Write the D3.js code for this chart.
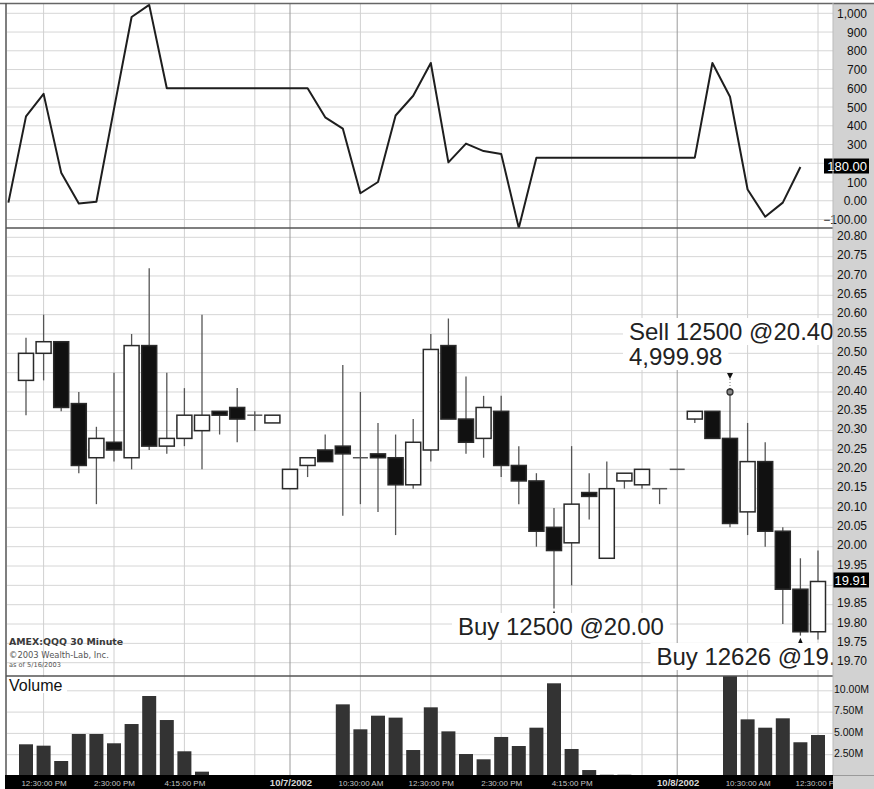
<!DOCTYPE html>
<html>
<head>
<meta charset="utf-8">
<script src="https://cdnjs.cloudflare.com/ajax/libs/d3/7.8.5/d3.min.js"></script>
<style>
body { margin: 0; background: #fff; }
svg { display: block; }
text { font-family: "Liberation Sans", Arial, sans-serif; }
</style>
</head>
<body>
<svg id="chart" width="874" height="789"></svg>
<script>
// QQQ 30 minute bars, 10/4 - 10/8/2002
const opens  = [20.43,20.50,20.53,20.37,20.23,20.27,20.23,20.52,20.26,20.28,20.30,20.35,20.36,20.34,20.32,
                20.15,20.21,20.25,20.26,20.23,20.24,20.23,20.16,20.25,20.52,20.33,20.28,20.35,20.21,20.17,20.05,20.01,20.14,19.97,20.17,20.16,20.15,
                20.20,20.33,20.35,20.28,20.09,20.22,20.04,19.89,19.78];
const highs  = [20.54,20.60,20.53,20.40,20.31,20.45,20.55,20.72,20.45,20.41,20.60,20.35,20.41,20.35,20.34,
                20.20,20.23,20.29,20.47,20.40,20.32,20.29,20.33,20.55,20.59,20.44,20.39,20.39,20.26,20.19,20.10,20.26,20.19,20.22,20.19,20.20,20.15,
                20.20,20.35,20.35,20.41,20.32,20.27,20.05,19.97,19.99];
const lows   = [20.34,20.43,20.35,20.19,20.11,20.22,20.20,20.25,20.24,20.26,20.20,20.29,20.27,20.30,20.32,
                20.15,20.18,20.22,20.08,20.11,20.09,20.03,20.15,20.22,20.33,20.24,20.23,20.18,20.11,20.00,19.84,19.90,20.07,19.97,20.15,20.15,20.11,
                20.20,20.32,20.28,20.05,20.03,20.00,19.80,19.77,19.76];
const closes = [20.50,20.53,20.36,20.21,20.28,20.25,20.52,20.26,20.28,20.34,20.34,20.34,20.33,20.34,20.34,
                20.20,20.23,20.22,20.24,20.23,20.23,20.16,20.27,20.51,20.33,20.27,20.36,20.21,20.17,20.04,19.99,20.11,20.13,20.15,20.19,20.20,20.15,
                20.20,20.35,20.28,20.06,20.22,20.04,19.89,19.78,19.91];
// volume in millions
const volumes = [3.72,3.56,1.76,4.93,4.93,3.84,6.10,9.39,6.57,2.90,0.51,0,0,0,0,
                 0,0,0,8.41,5.48,7.08,6.85,3.05,8.06,5.24,2.58,1.96,4.58,3.52,5.67,10.88,3.17,0.70,0.15,0.15,0,0,
                 0,0,0,12.0,6.65,5.67,6.77,3.96,4.81];
// oscillator, first value belongs to the bar before the first candle
const oscStart = -1;
const oscillator = [-10,450,570,150,-15,-5,490,980,1045,600,600,600,600,600,600,600,600,600,
                    445,385,40,100,455,560,735,205,305,265,250,-145,230,230,230,230,230,230,230,230,230,230,
                    735,555,60,-85,-10,180];

const oscTicks = [-100,0,100,200,300,400,500,600,700,800,900,1000];
const oscTickLabels = ["\u2212100.00","0.00","100","200","300","400","500","600","700","800","900","1,000"];
const priceTicks = [19.70,19.75,19.80,19.85,19.90,19.95,20.00,20.05,20.10,20.15,20.20,20.25,
                    20.30,20.35,20.40,20.45,20.50,20.55,20.60,20.65,20.70,20.75,20.80];
const volTicks = [2.5,5,7.5,10];
const volTickLabels = ["2.50M","5.00M","7.50M","10.00M"];
const gridBars = [1,5,9,13,19,23,27,31,35,41,45];
const timeTickBars = [1,5,9,19,23,27,31,41,45];
const timeTickLabels = ["12:30:00 PM","2:30:00 PM","4:15:00 PM","10:30:00 AM","12:30:00 PM",
                        "2:30:00 PM","4:15:00 PM","10:30:00 AM","12:30:00 PM"];
const dayBars = [15,37];
const dayLabels = ["10/7/2002","10/8/2002"];

const tradeBars = [30,40,44];
const tradeSides = ["Buy","Sell","Buy"];
const tradeShares = [12500,12500,12626];
const tradePrices = [20.00,20.40,19.80];
const tradeProfit = [null,"4,999.98",null];

const lastOsc = 180.00;
const lastPrice = 19.91;

// ---- layout
const svg = d3.select("#chart");
const L = 7, R = 833, W = 874;
const top0 = 4, top1 = 228, mid1 = 676, vol1 = 775;

const x = d3.scaleLinear().domain([0, 45]).range([26, 818]);
const yOsc = d3.scaleLinear().domain([-100, 1000]).range([219.5, 13.3]);
const yPrice = d3.scaleLinear().domain([19.70, 20.80]).range([662.7, 237.3]);
const yVol = d3.scaleLinear().domain([0, 10]).range([776, 690.8]);

const defs = svg.append("defs");
function clip(id, y0, y1, x1) {
    defs.append("clipPath").attr("id", id)
        .append("rect").attr("x", L).attr("y", y0).attr("width", (x1 || R) - L).attr("height", y1 - y0);
}
clip("cTop", top0, top1);
clip("cMid", top1, mid1);
clip("cVol", mid1, vol1);

// ---- grid
const grid = svg.append("g").attr("class", "grid");
grid.selectAll("line.h1").data(oscTicks).enter().append("line")
    .attr("x1", L).attr("x2", R)
    .attr("y1", d => yOsc(d)).attr("y2", d => yOsc(d))
    .attr("stroke", "#d6d6d6");
grid.selectAll("line.h2").data(priceTicks).enter().append("line")
    .attr("x1", L).attr("x2", R)
    .attr("y1", d => yPrice(d)).attr("y2", d => yPrice(d))
    .attr("stroke", "#d6d6d6");
grid.selectAll("line.h3").data(volTicks).enter().append("line")
    .attr("x1", L).attr("x2", R)
    .attr("y1", d => yVol(d)).attr("y2", d => yVol(d))
    .attr("stroke", "#d6d6d6");
grid.selectAll("line.v").data(gridBars).enter().append("line")
    .attr("x1", d => x(d)).attr("x2", d => x(d))
    .attr("y1", top0).attr("y2", vol1)
    .attr("stroke", "#d0d0d0");
grid.selectAll("line.d").data(dayBars).enter().append("line")
    .attr("x1", d => x(d)).attr("x2", d => x(d))
    .attr("y1", top0).attr("y2", vol1)
    .attr("stroke", "#9a9a9a");

// ---- oscillator
const oscLine = d3.line()
    .x((d, k) => x(k + oscStart))
    .y(d => yOsc(d));
svg.append("path")
    .attr("clip-path", "url(#cTop)")
    .attr("d", oscLine(oscillator))
    .attr("fill", "none")
    .attr("stroke", "#1e1e1e")
    .attr("stroke-width", 2)
    .attr("stroke-linejoin", "round");

// ---- candles
const bars = d3.range(opens.length);
const candles = svg.append("g").attr("clip-path", "url(#cMid)");
candles.selectAll("line.wick").data(bars).enter().append("line")
    .attr("x1", i => x(i)).attr("x2", i => x(i))
    .attr("y1", i => yPrice(highs[i])).attr("y2", i => yPrice(lows[i]))
    .attr("stroke", "#555").attr("stroke-width", 1.3);
candles.selectAll("rect.body").data(bars.filter(i => opens[i] !== closes[i])).enter().append("rect")
    .attr("x", i => x(i) - 7.5)
    .attr("width", 15)
    .attr("y", i => yPrice(Math.max(opens[i], closes[i])))
    .attr("height", i => Math.abs(yPrice(opens[i]) - yPrice(closes[i])))
    .attr("fill", i => closes[i] > opens[i] ? "#fff" : "#111")
    .attr("stroke", "#2a2a2a")
    .attr("stroke-width", 1.5);
candles.selectAll("line.doji").data(bars.filter(i => opens[i] === closes[i])).enter().append("line")
    .attr("x1", i => x(i) - 7.5).attr("x2", i => x(i) + 7.5)
    .attr("y1", i => yPrice(closes[i])).attr("y2", i => yPrice(closes[i]))
    .attr("stroke", "#555").attr("stroke-width", 1.5);

// ---- volume
svg.append("g").attr("clip-path", "url(#cVol)")
    .selectAll("rect").data(bars.filter(i => volumes[i] > 0)).enter().append("rect")
    .attr("x", i => x(i) - 7)
    .attr("width", 14)
    .attr("y", i => yVol(volumes[i]))
    .attr("height", i => yVol(0) - yVol(volumes[i]))
    .attr("fill", "#333");

// ---- trade markers + annotations
const marks = svg.append("g").attr("clip-path", "url(#cMid)");
tradeBars.forEach((b, k) => {
    const cx = x(b);
    if (tradeSides[k] === "Buy") {
        const ty = yPrice(lows[b]) + 2;
        marks.append("path")
            .attr("d", `M${cx},${ty} l-3,7 l6,0 z`)
            .attr("fill", "#111");
    } else {
        const py = yPrice(tradePrices[k]);
        marks.append("line").attr("x1", cx).attr("x2", cx).attr("y1", py - 13).attr("y2", py)
            .attr("stroke", "#777").attr("stroke-dasharray", "1,2");
        marks.append("path")
            .attr("d", `M${cx},${py - 13} l-3,-6 l6,0 z`)
            .attr("fill", "#111");
        marks.append("circle").attr("cx", cx).attr("cy", py).attr("r", 3)
            .attr("fill", "#888").attr("stroke", "#333").attr("stroke-width", 1.3);
    }
});

function boxedText(g, str, tx, ty, size, pad) {
    const t = g.append("text").attr("x", tx).attr("y", ty)
        .attr("font-size", size).attr("fill", "#222").text(str);
    const bb = t.node().getBBox();
    g.insert("rect", () => t.node())
        .attr("x", bb.x - pad).attr("y", bb.y)
        .attr("width", bb.width + pad * 2).attr("height", bb.height)
        .attr("fill", "#fff");
    return t;
}
const notes = svg.append("g").attr("clip-path", "url(#cMid)");
const noteShift = [-96, -101, -144];
tradeBars.forEach((b, k) => {
    const str = `${tradeSides[k]} ${tradeShares[k]} @${tradePrices[k].toFixed(2)}`;
    if (tradeSides[k] === "Sell") {
        const bx = x(b) + noteShift[k];
        boxedText(notes, str, bx, 340, 24, 6);
        boxedText(notes, tradeProfit[k], bx, 365, 24, 6);
    } else {
        const ly = k === 0 ? 635 : 665;
        boxedText(notes, str, x(b) + noteShift[k], ly, 24, 6);
    }
});

// ---- captions
svg.append("text").attr("x", 9).attr("y", 645)
    .style("font-family", "'DejaVu Sans', Verdana, sans-serif")
    .attr("font-size", 9.4).attr("font-weight", "bold").attr("fill", "#3a3a3a")
    .text("AMEX:QQQ 30 Minute");
svg.append("text").attr("x", 9).attr("y", 657.5)
    .style("font-family", "'DejaVu Sans', Verdana, sans-serif")
    .attr("font-size", 8.4).attr("fill", "#555")
    .text("\u00A92003 Wealth-Lab, Inc.");
svg.append("text").attr("x", 9).attr("y", 667)
    .style("font-family", "'DejaVu Sans', Verdana, sans-serif")
    .attr("font-size", 6.6).attr("fill", "#555")
    .text("as of 5/16/2003");
svg.append("rect").attr("x", L).attr("y", 677).attr("width", 60).attr("height", 16).attr("fill", "#fff");
svg.append("text").attr("x", 9).attr("y", 691).attr("font-size", 16).attr("fill", "#111").text("Volume");

// ---- right axis band
svg.append("rect").attr("x", R).attr("y", top0).attr("width", W - R).attr("height", 789 - top0)
    .attr("fill", "#d2d2d2");

// tick labels that sit under a current-value box are left out (hidden in the original)
const oscAxis = d3.axisRight(yOsc)
    .tickValues(oscTicks.filter(d => Math.abs(yOsc(d) - yOsc(lastOsc)) > 9)).tickSize(0)
    .tickFormat(d => oscTickLabels[oscTicks.indexOf(d)]);
svg.append("g").attr("transform", `translate(867,0)`).call(oscAxis)
    .call(g => g.select(".domain").remove())
    .selectAll("text").attr("x", 0).attr("dy", "0.35em").attr("text-anchor", "end")
    .attr("font-size", 12).attr("font-family", "Liberation Sans, Arial, sans-serif").attr("fill", "#111");

const priceAxis = d3.axisRight(yPrice)
    .tickValues(priceTicks.filter(d => Math.abs(yPrice(d) - yPrice(lastPrice)) > 9)).tickSize(0)
    .tickFormat(d3.format(".2f"));
svg.append("g").attr("transform", `translate(867,-2)`).call(priceAxis)
    .call(g => g.select(".domain").remove())
    .selectAll("text").attr("x", 0).attr("dy", "0.35em").attr("text-anchor", "end")
    .attr("font-size", 12).attr("font-family", "Liberation Sans, Arial, sans-serif").attr("fill", "#111");

const volAxis = d3.axisRight(yVol).tickValues(volTicks).tickSize(0)
    .tickFormat((d, k) => volTickLabels[k]);
svg.append("g").attr("transform", `translate(834,-2)`).call(volAxis)
    .call(g => g.select(".domain").remove())
    .selectAll("text").attr("x", 0).attr("dy", "0.35em").attr("text-anchor", "start")
    .attr("font-size", 10.5).attr("font-family", "Liberation Sans, Arial, sans-serif").attr("fill", "#111");

// current value boxes
function valueBox(yy, str, x0) {
    svg.append("rect").attr("x", x0).attr("y", yy - 7.5).attr("width", 869 - x0).attr("height", 15).attr("fill", "#000");
    svg.append("text").attr("x", 867).attr("y", yy).attr("dy", "0.36em").attr("text-anchor", "end")
        .attr("font-size", 13).attr("fill", "#fff").text(str);
}
valueBox(yOsc(lastOsc) - 1, lastOsc.toFixed(2), 824);
valueBox(yPrice(lastPrice) - 1.5, lastPrice.toFixed(2), 833);

// ---- bottom time axis
svg.append("rect").attr("x", 5).attr("y", vol1).attr("width", R - 5).attr("height", 789 - vol1).attr("fill", "#000");
svg.append("line").attr("x1", R).attr("x2", W).attr("y1", vol1 + 0.5).attr("y2", vol1 + 0.5).attr("stroke", "#9a9a9a");
const timeAxis = d3.axisBottom(x).tickValues(timeTickBars).tickSize(0)
    .tickFormat((d, k) => timeTickLabels[k]);
const tg = svg.append("g").attr("transform", `translate(0,${vol1})`).call(timeAxis);
tg.select(".domain").remove();
tg.selectAll("text").attr("y", 0).attr("dy", "10.5").attr("font-size", 8)
    .attr("font-family", "Liberation Sans, Arial, sans-serif").attr("fill", "#c4c4c4");
tg.selectAll("text").filter(d => d === 45)
    .attr("text-anchor", "start").attr("x", -23);
svg.append("rect").attr("x", R).attr("y", vol1 + 1).attr("width", W - R).attr("height", 789 - vol1).attr("fill", "#d2d2d2");
svg.selectAll("text.day").data(dayBars).enter().append("text")
    .attr("class", "day")
    .attr("x", d => x(d) + 1).attr("y", vol1 + 10.5)
    .attr("text-anchor", "middle").attr("font-size", 9.5).attr("font-weight", "bold")
    .attr("fill", "#d8d8d8")
    .text((d, k) => dayLabels[k]);

// ---- frame lines
svg.append("line").attr("x1", 0).attr("x2", W).attr("y1", 3.5).attr("y2", 3.5).attr("stroke", "#666").attr("stroke-width", 1.5);
svg.append("line").attr("x1", L - 1).attr("x2", L - 1).attr("y1", 3).attr("y2", vol1).attr("stroke", "#555").attr("stroke-width", 1.5);
svg.append("line").attr("x1", L - 1).attr("x2", R).attr("y1", top1).attr("y2", top1).attr("stroke", "#555").attr("stroke-width", 1.5);
svg.append("line").attr("x1", L - 1).attr("x2", R).attr("y1", mid1).attr("y2", mid1).attr("stroke", "#555").attr("stroke-width", 1.5);
svg.append("line").attr("x1", R).attr("x2", R).attr("y1", 3).attr("y2", vol1).attr("stroke", "#bbb").attr("stroke-width", 1);
</script>
</body>
</html>
